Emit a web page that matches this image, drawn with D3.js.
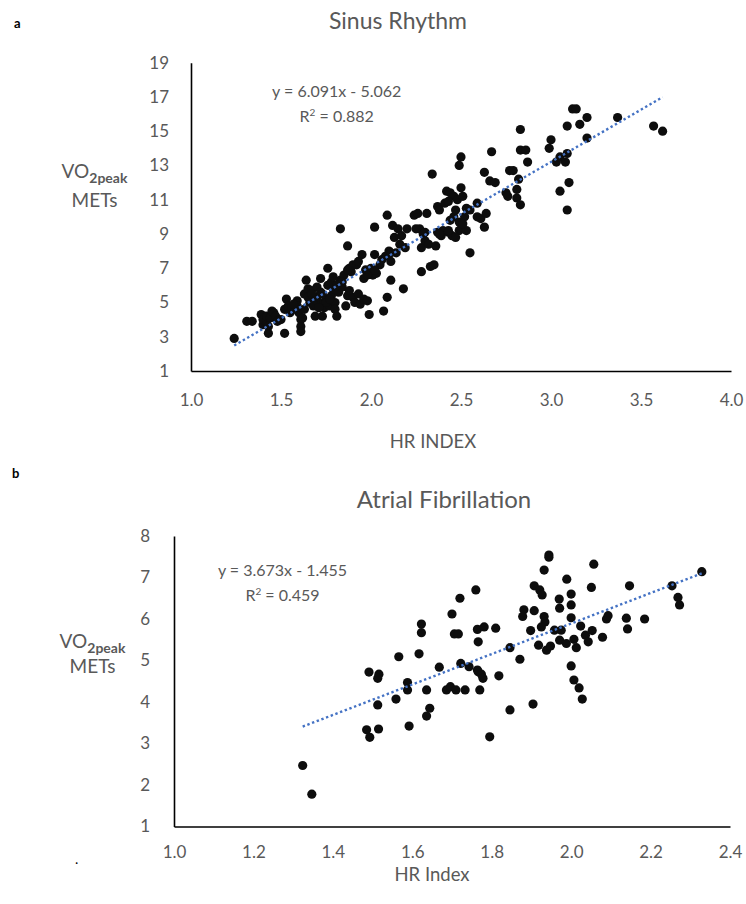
<!DOCTYPE html>
<html><head><meta charset="utf-8">
<script src="https://cdn.jsdelivr.net/npm/d3@7"></script>
<style>body{margin:0;background:#fff}svg{display:block}text{font-family:Lato,'Open Sans',sans-serif}</style>
</head><body><svg id="c" width="746" height="904"></svg>
<script>
// ---------- data ----------
const sinusPoints = [
[1.24,2.9],[1.31,3.9],[1.34,3.9],[1.39,4.3],[1.40,3.7],[1.40,4.0],[1.42,3.9],[1.42,4.2],[1.44,4.1],[1.43,3.2],
[1.45,4.5],[1.46,4.4],[1.43,3.6],[1.47,4.2],[1.48,3.9],[1.50,4.0],[1.52,3.2],[1.53,5.2],[1.52,4.6],[1.54,4.8],
[1.55,4.4],[1.56,4.7],[1.58,4.6],[1.59,5.1],[1.59,4.8],[1.60,4.4],[1.61,4.0],[1.61,3.6],[1.61,3.3],[1.62,4.1],
[1.63,5.5],[1.64,6.3],[1.65,5.8],[1.66,5.0],[1.67,5.7],[1.68,4.8],[1.69,4.2],[1.70,5.9],[1.70,5.3],[1.71,5.0],
[1.72,6.4],[1.72,5.6],[1.73,4.2],[1.74,4.7],[1.75,5.2],[1.76,7.0],[1.77,4.8],[1.78,6.2],[1.78,5.4],[1.79,5.8],
[1.80,5.0],[1.80,4.6],[1.81,4.2],[1.82,5.6],[1.83,9.3],[1.83,6.3],[1.84,5.9],[1.85,6.6],[1.87,8.3],[1.86,4.8],
[1.87,5.4],[1.88,7.0],[1.89,6.8],[1.90,7.2],[1.90,5.3],[1.91,5.0],[1.92,7.2],[1.93,5.5],[1.94,4.9],[1.95,7.8],
[1.96,5.2],[1.97,6.9],[1.98,5.1],[1.99,4.3],[2.00,7.0],[2.01,6.6],[2.02,7.8],[2.02,9.4],[2.03,6.7],[2.05,7.2],
[2.07,4.5],[2.08,7.7],[2.09,10.1],[2.09,5.3],[2.10,8.0],[2.11,7.4],[2.11,6.3],[2.12,9.5],[2.13,8.8],[2.14,7.9],
[2.15,9.3],[2.16,8.4],[2.17,8.9],[2.18,5.8],[2.19,8.2],[2.20,9.3],[2.24,10.1],[2.26,10.2],[2.27,9.3],[2.28,8.2],
[2.28,6.8],[2.29,9.0],[2.30,8.6],[2.31,10.2],[2.32,8.4],[2.33,7.1],[2.34,12.5],[2.35,7.2],[2.36,8.3],[2.37,10.6],
[2.37,9.1],[2.39,8.9],[2.40,9.2],[2.41,10.8],[2.42,11.5],[2.43,9.1],[2.44,11.4],[2.45,8.9],[2.46,11.2],[2.46,10.0],
[2.47,10.4],[2.48,11.0],[2.49,13.0],[2.49,9.2],[2.50,13.5],[2.50,11.7],[2.50,9.6],[2.51,11.2],[2.53,10.5],[2.55,7.9],
[2.59,10.8],[2.59,10.0],[2.61,9.9],[2.63,9.4],[2.63,12.6],[2.64,10.2],[2.66,12.1],[2.67,13.8],[2.69,12.0],[2.75,11.4],
[2.76,11.2],[2.77,12.7],[2.79,12.7],[2.81,11.6],[2.81,11.1],[2.82,12.2],[2.83,10.7],[2.83,15.1],[2.83,13.9],[2.86,13.9],
[2.87,13.2],[2.99,14.0],[3.00,14.5],[3.03,13.2],[3.05,13.5],[3.05,11.5],[3.08,13.2],[3.09,13.7],[3.09,10.4],[3.09,15.3],
[3.10,12.0],[3.12,16.3],[3.14,16.3],[3.16,15.4],[3.20,15.8],[3.20,14.6],[3.37,15.8],[3.57,15.3],[3.62,15.0],
[1.76,6.0],[1.79,6.5],[1.81,6.0],[1.84,6.2],[1.87,6.9],[1.88,5.7],[1.93,7.4],[1.96,6.4],[1.98,6.6],[2.02,6.9],
[2.06,7.5],[2.11,7.9],[1.65,5.3],[1.67,5.5],[1.69,5.1],[1.73,5.5],[1.75,5.0],[1.57,4.9],[1.63,4.6],[1.68,4.9],
[1.71,4.7],[1.77,5.2],[2.38,10.4],[2.43,10.9],[2.44,9.8],[2.47,8.8],[2.52,10.0],[2.53,9.2],[2.55,10.4],[2.25,9.3],
[2.30,9.1],[2.38,9.0],[2.43,9.2],[2.49,9.7],[2.51,9.6]
];
const afibPoints = [
[1.324,2.47],[1.347,1.78],[1.491,4.72],[1.516,4.67],[1.513,4.57],[1.513,3.93],[1.485,3.33],[1.493,3.15],[1.515,3.35],[1.566,5.09],
[1.617,5.16],[1.559,4.07],[1.592,3.42],[1.588,4.47],[1.588,4.29],[1.636,4.29],[1.668,4.84],[1.644,3.85],[1.636,3.66],[1.686,4.29],
[1.696,4.37],[1.71,4.29],[1.733,4.29],[1.722,4.93],[1.743,4.85],[1.766,5.45],[1.766,4.73],[1.77,4.29],[1.76,6.70],[1.72,6.50],
[1.70,6.12],[1.623,5.88],[1.623,5.67],[1.706,5.64],[1.716,5.64],[1.764,5.75],[1.944,7.54],[1.944,7.49],[1.932,7.18],[2.057,7.32],
[1.989,6.96],[1.907,6.80],[1.921,6.70],[1.927,6.58],[1.781,5.81],[1.81,5.78],[1.764,4.77],[1.774,4.67],[1.778,4.57],[1.818,4.63],
[1.846,5.31],[1.871,5.03],[1.846,3.81],[1.904,3.95],[1.795,3.16],[1.881,6.22],[1.878,6.06],[1.907,6.20],[1.932,6.06],[1.934,5.93],
[1.925,5.81],[1.898,5.72],[1.918,5.37],[1.938,5.25],[1.948,5.35],[1.958,5.73],[1.975,5.73],[1.971,5.49],[1.988,5.41],[2.007,5.51],
[2.013,5.31],[1.97,6.48],[1.971,6.26],[2.0,6.60],[2.0,6.34],[2.0,6.03],[2.051,6.76],[2.024,5.83],[2.036,5.61],[2.043,5.45],
[2.053,5.72],[2.079,5.56],[2.089,6.0],[2.093,6.08],[2.147,6.80],[2.139,6.02],[2.142,5.76],[2.185,6.0],[2.254,6.80],[2.269,6.52],
[2.273,6.34],[2.329,7.14],[2.0,4.87],[2.007,4.53],[2.02,4.34],[2.028,4.07]
];
const sinusFit = [6.091, -5.062];
const afibFit = [3.673, -1.455];
const sinusXTicks = [1.0,1.5,2.0,2.5,3.0,3.5,4.0];
const sinusYTicks = [1,3,5,7,9,11,13,15,17,19];
const afibXTicks = [1.0,1.2,1.4,1.6,1.8,2.0,2.2,2.4];
const afibYTicks = [1,2,3,4,5,6,7,8];
const sinusTexts = {title:"Sinus Rhythm", panel:"a", eq:"y = 6.091x - 5.062", r2:"0.882", xTitle:"HR INDEX"};
const afibTexts = {title:"Atrial Fibrillation", panel:"b", eq:"y = 3.673x - 1.455", r2:"0.459", xTitle:"HR Index"};

// ---------- drawing ----------
const svg = d3.select("#c");
const GRAY = "#595959";

function panel(o){
  const g = svg.append("g");
  const x = d3.scaleLinear().domain(o.xDom).range(o.xR);
  const y = d3.scaleLinear().domain(o.yDom).range(o.yR);

  const ax = g.append("g").attr("transform",`translate(0,${o.yR[0]})`)
    .call(d3.axisBottom(x).tickValues(o.xTicks).tickFormat(d3.format(".1f")).tickSize(0).tickPadding(o.xPad));
  const ay = g.append("g").attr("transform",`translate(${o.xR[0]},0)`)
    .call(d3.axisLeft(y).tickValues(o.yTicks).tickFormat(d3.format("d")).tickSize(0).tickPadding(o.yPad));
  [ax,ay].forEach(a=>{
    a.select(".domain").attr("stroke","#000").attr("stroke-width",1.6);
    a.selectAll("text").attr("fill",GRAY).style("font-size",o.tickFont+"px").style("font-family","Lato");
  });

  g.append("g").selectAll("circle").data(o.pts).join("circle")
    .attr("cx",d=>x(d[0])).attr("cy",d=>y(d[1])).attr("r",4.6).attr("fill","#0d0d0d");

  const xs = d3.extent(o.pts,d=>d[0]);
  g.append("path").datum(xs)
    .attr("d",d3.line().x(d=>x(d)).y(d=>y(o.fit[0]*d+o.fit[1])))
    .attr("stroke","#4472C4").attr("stroke-width",2.4).attr("stroke-dasharray","2.4 2.6").attr("fill","none");

  const t = o.texts;
  g.append("text").attr("x",o.titlePos[0]).attr("y",o.titlePos[1]).attr("text-anchor","middle")
    .attr("fill",GRAY).style("font-size",o.titleFont+"px").text(t.title);
  g.append("text").attr("x",o.panelPos[0]).attr("y",o.panelPos[1])
    .attr("fill","#000").style("font-size","13px").style("font-weight","bold").text(t.panel);
  g.append("text").attr("x",o.eqPos[0]).attr("y",o.eqPos[1]).attr("text-anchor","middle")
    .attr("fill",GRAY).style("font-size","16px").text(t.eq);
  const r = g.append("text").attr("x",o.eqPos[0]).attr("y",o.eqPos[1]+25).attr("text-anchor","middle")
    .attr("fill",GRAY).style("font-size","16px");
  r.append("tspan").text("R");
  r.append("tspan").attr("dy",-6).style("font-size","10px").text("2");
  r.append("tspan").attr("dy",6).text(" = "+t.r2);
  g.append("text").attr("x",o.xTitlePos[0]).attr("y",o.xTitlePos[1]).attr("text-anchor","middle")
    .attr("fill",GRAY).style("font-size","18.5px").text(t.xTitle);
  const v = g.append("text").attr("x",o.yTitlePos[0]).attr("y",o.yTitlePos[1]).attr("text-anchor","middle")
    .attr("fill",GRAY).style("font-size","19px");
  v.append("tspan").text("VO");
  v.append("tspan").attr("dy",5).style("font-size","14px").style("font-weight","bold").text("2peak");
  g.append("text").attr("x",o.yTitlePos[0]).attr("y",o.yTitlePos[1]+o.metsGap).attr("text-anchor","middle")
    .attr("fill",GRAY).style("font-size","19px").text("METs");
}

panel({xDom:[1,4], xR:[191,731], yDom:[1,19], yR:[371,62.7], xTicks:sinusXTicks, yTicks:sinusYTicks,
  xPad:23, yPad:22, tickFont:17, pts:sinusPoints, fit:sinusFit, texts:sinusTexts,
  titlePos:[398,29], titleFont:23, panelPos:[14,28], eqPos:[336.7,97], xTitlePos:[433,448],
  yTitlePos:[94.5,178], metsGap:29});
panel({xDom:[1,2.4], xR:[174,730], yDom:[1,8], yR:[826.5,536], xTicks:afibXTicks, yTicks:afibYTicks,
  xPad:19, yPad:24, tickFont:17, pts:afibPoints, fit:afibFit, texts:afibTexts,
  titlePos:[444,508], titleFont:24, panelPos:[12,478], eqPos:[282.5,576], xTitlePos:[432,881],
  yTitlePos:[92.5,648], metsGap:25});
svg.append("text").attr("x",75).attr("y",864).attr("fill","#000").style("font-size","14px").text(".");
</script></body></html>
